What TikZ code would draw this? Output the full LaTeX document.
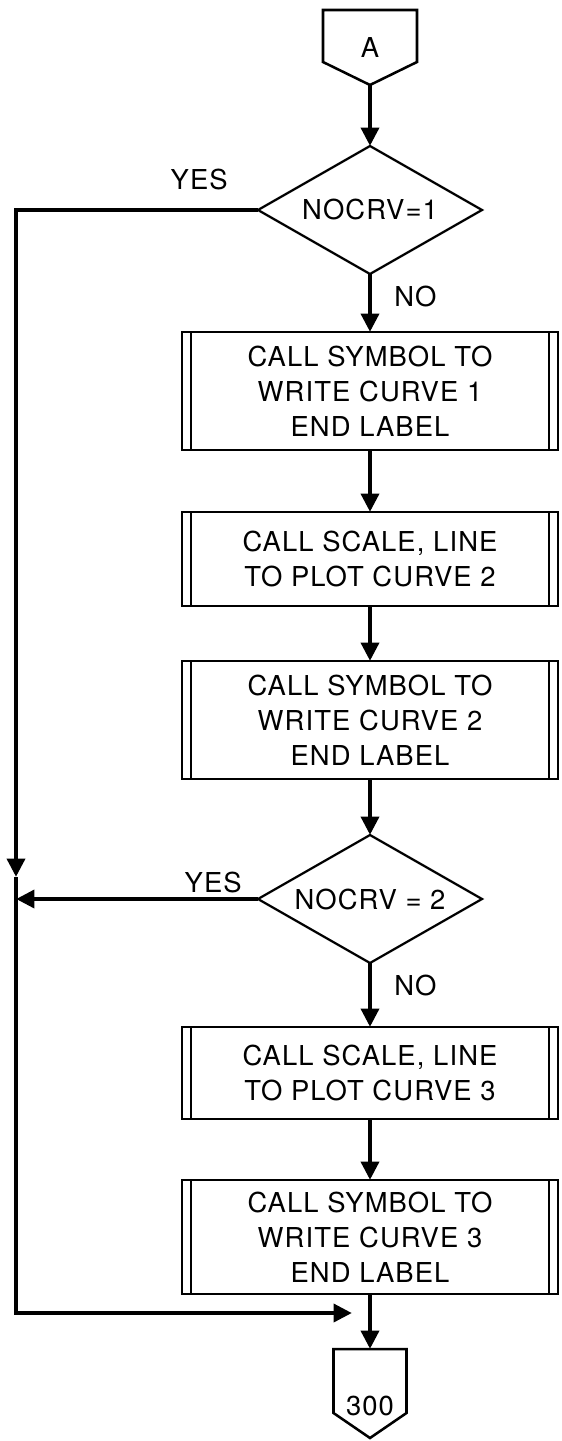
\documentclass[tikz,border=0pt]{standalone}
\usepackage{fontspec}
\setmainfont{TeX Gyre Heros}[LetterSpace=4]
\usetikzlibrary{positioning,arrows.meta,shapes.geometric,calc}

\begin{document}
\begin{tikzpicture}[font=\fontsize{19.5}{25}\selectfont, >={Triangle[length=4.6mm,width=4.4mm]},
      edge/.style={line width=1.8pt},
      flow/.style={line width=3.5pt},
      proc/.style={draw, line width=1.8pt, minimum width=9.4cm, align=center, inner sep=0pt,
                   outer sep=0pt},
      dec/.style={draw, diamond, aspect=1.75, line width=1.6pt, minimum width=5.6cm,
                  minimum height=3.2cm, inner sep=0pt, outer sep=0pt},
      conn/.style={minimum width=2.35cm, inner sep=0pt, outer sep=0pt},
      lbl/.style={inner sep=0pt}]
    \useasboundingbox (0,0) rectangle (14.025,-36.025);
    % chain of boxes
    \node[conn, minimum height=1.875cm] (ca) at (9.25,-1.1875) {A};
    \node[dec, below=1.525cm of ca] (d1) {NOCRV=1};
    \node[proc, minimum height=2.95cm, below=1.45cm of d1] (b1) {CALL SYMBOL TO\\WRITE CURVE 1\\END LABEL};
    \node[proc, minimum height=2.35cm, below=1.55cm of b1] (b2) {CALL SCALE, LINE\\TO PLOT CURVE 2};
    \node[proc, minimum height=2.95cm, below=1.375cm of b2] (b3) {CALL SYMBOL TO\\WRITE CURVE 2\\END LABEL};
    \node[dec, below=1.4cm of b3] (d2) {NOCRV = 2};
    \node[proc, minimum height=2.3cm, below=1.6cm of d2] (b4) {CALL SCALE, LINE\\TO PLOT CURVE 3};
    \node[proc, minimum height=2.85cm, below=1.525cm of b4] (b5) {CALL SYMBOL TO\\WRITE CURVE 3\\END LABEL};
    \node[conn, minimum width=1.825cm, minimum height=2.225cm, below=1.375cm of b5] (cz) {};
    \node[lbl] (czt) at ([yshift=-0.3cm]cz.center) {300};
    % connector outlines
    \draw[edge] (ca.north west) -- (ca.north east) -- ([yshift=0.575cm]ca.south east)
                -- (ca.south) -- ([yshift=0.575cm]ca.south west) -- cycle;
    \draw[edge] (cz.north west) -- (cz.north east) -- ([yshift=0.625cm]cz.south east)
                -- (cz.south) -- ([yshift=0.625cm]cz.south west) -- cycle;
    \foreach \b in {b1,b2,b3,b4,b5}{
      \draw[edge] ([xshift=0.225cm]\b.north west) -- ([xshift=0.225cm]\b.south west);
      \draw[edge] ([xshift=-0.225cm]\b.north east) -- ([xshift=-0.225cm]\b.south east);
    }
    % labels
    \node[lbl, above left=0.5cm and 0.75cm of d1.west] (yes1) {YES};
    \node[lbl, below right=0.3cm and 0.6cm of d1.south] (no1) {NO};
    \node[lbl, above left=0.15cm and 0.4cm of d2.west] (yes2) {YES};
    \node[lbl, below right=0.3cm and 0.6cm of d2.south] (no2) {NO};
    % arrows
    \coordinate (rail) at (0.4,0);
    \coordinate (railmid) at ($(d2.west -| rail)+(0,0.55)$);
    \coordinate[below=0.475cm of b5] (mrg);
    \draw[flow, ->] (ca.south) -- (d1.north);
    \draw[flow, ->] (d1.south) -- (b1.north);
    \draw[flow, ->] (b1) -- (b2);
    \draw[flow, ->] (b2) -- (b3);
    \draw[flow, ->] (b3.south) -- (d2.north);
    \draw[flow, ->] (d2.south) -- (b4.north);
    \draw[flow, ->] (b4) -- (b5);
    \draw[flow, ->] (b5) -- (cz);
    \draw[flow, ->] (d1.west) -| (railmid);
    \draw[flow, ->] (railmid) -- (mrg -| rail) -- ([xshift=-0.45cm]mrg);
    \draw[flow, ->] (d2.west) -- (d2.west -| rail);
  \end{tikzpicture}
\end{document}
